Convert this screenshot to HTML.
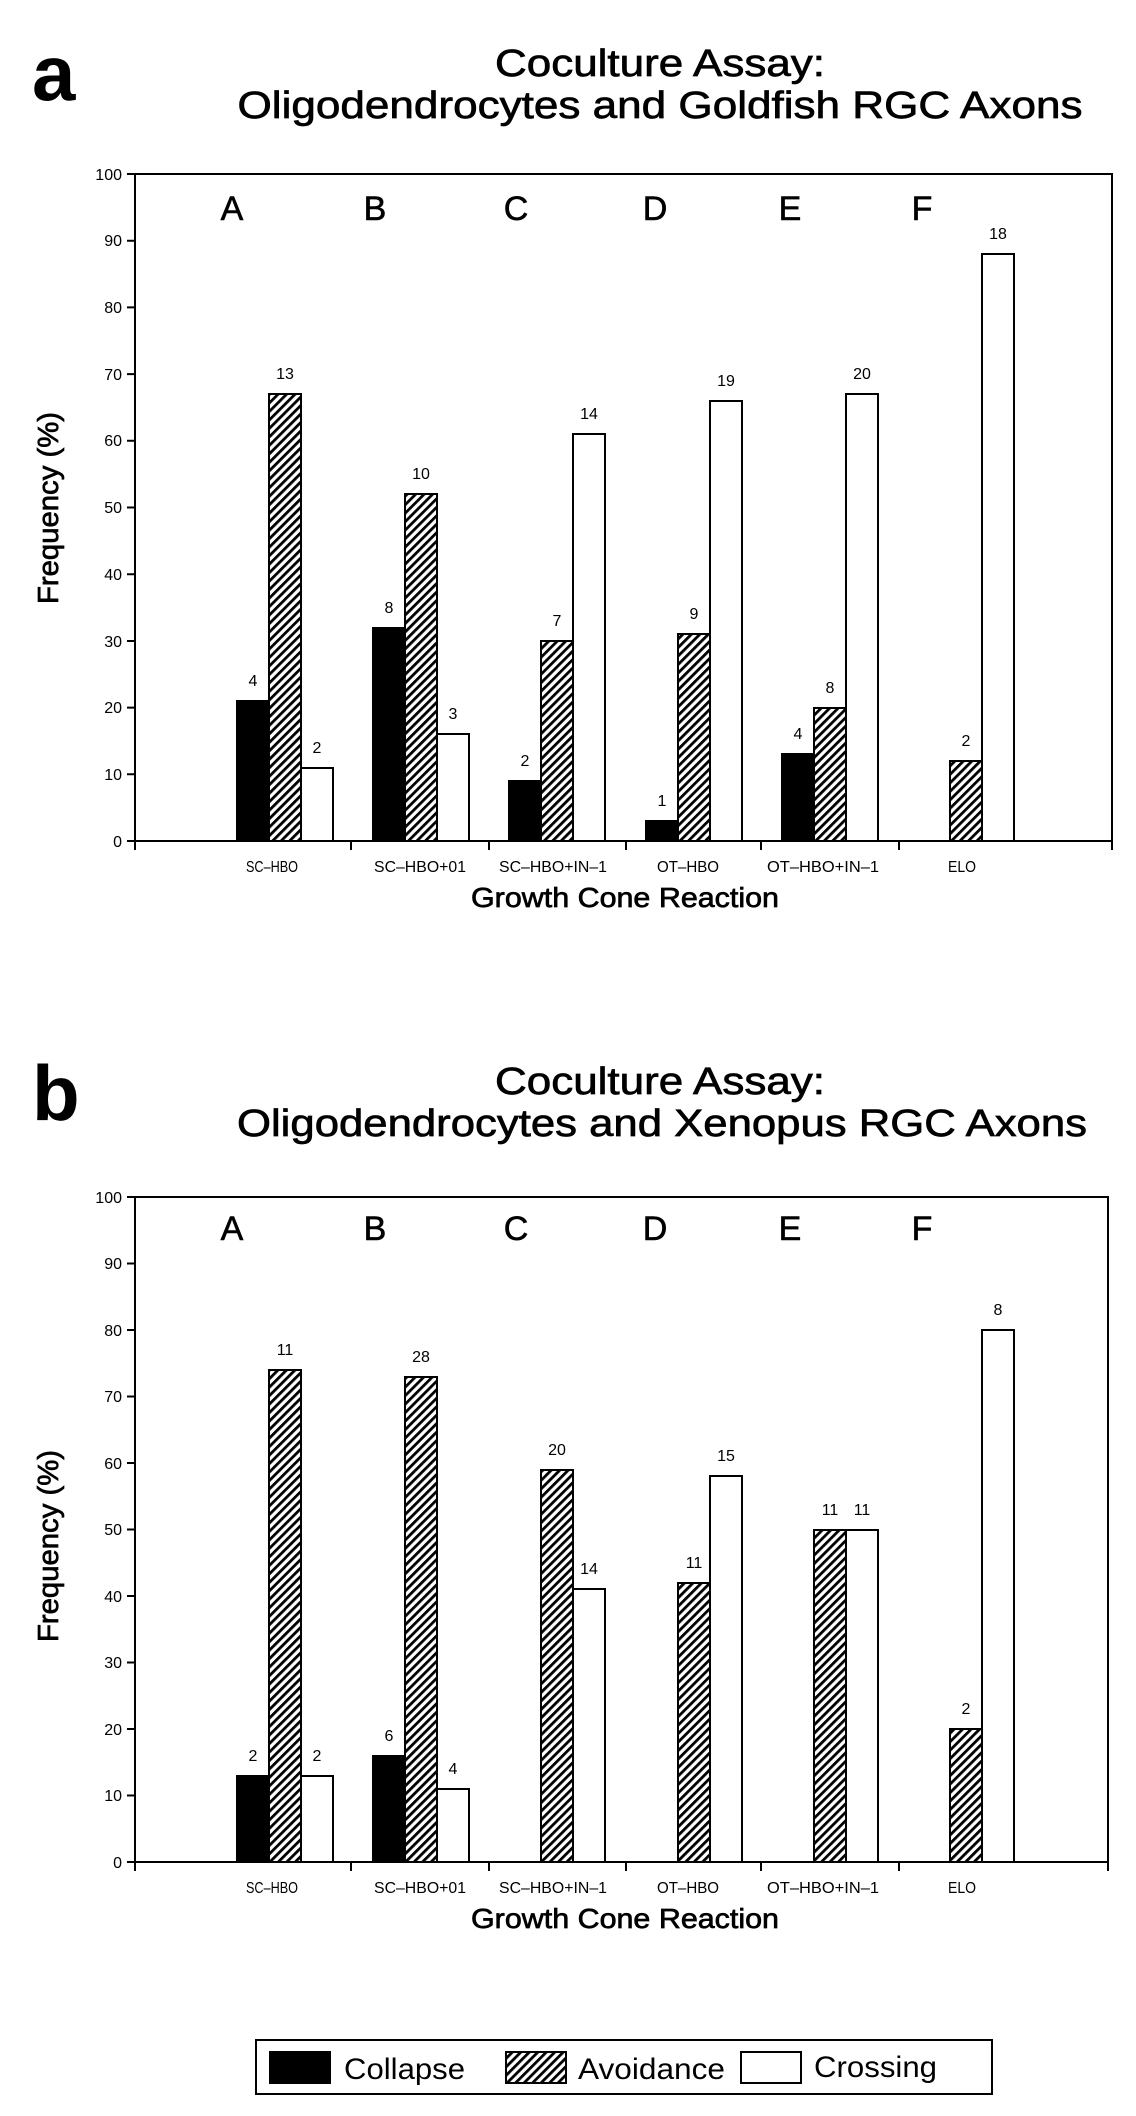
<!DOCTYPE html>
<html><head><meta charset="utf-8"><style>
html,body{margin:0;padding:0;background:#fff;}
svg{display:block;}
text{font-family:"Liberation Sans",Arial,sans-serif;fill:#000;}
.tk{font-size:16px;}
.val{font-size:16px;}
.cat{font-size:16px;}
.let{font-size:34px;stroke:#000;stroke-width:0.6px;}
.ttl{stroke:#000;stroke-width:0.7px;}
</style></head><body>
<svg width="1136" height="2116" viewBox="0 0 1136 2116" xmlns="http://www.w3.org/2000/svg">
<defs>
<pattern id="h" patternUnits="userSpaceOnUse" width="6" height="6" patternTransform="rotate(45)">
<rect width="6" height="6" fill="#fff"/><rect x="0" y="0" width="2.8" height="6" fill="#000"/>
</pattern>
</defs>

<!-- ===== Chart a ===== -->
<text x="32" y="100" font-size="78" font-weight="bold">a</text>
<text class="ttl" x="660" y="76" font-size="38" text-anchor="middle" textLength="330" lengthAdjust="spacingAndGlyphs">Coculture Assay:</text>
<text class="ttl" x="660" y="118" font-size="38" text-anchor="middle" textLength="845" lengthAdjust="spacingAndGlyphs">Oligodendrocytes and Goldfish RGC Axons</text>

<g stroke="#000" fill="none">
<rect x="135" y="174" width="977" height="667" stroke-width="2"/>
<path d="M127 841H135M127 774.3H135M127 707.6H135M127 641H135M127 574.2H135M127 507.5H135M127 440.8H135M127 374.1H135M127 307.4H135M127 240.7H135M127 174H135" stroke-width="2"/>
<path d="M135 841V850M351 841V850M489 841V850M626 841V850M761 841V850M899 841V850M1112 841V850" stroke-width="2"/>
</g>
<g class="tk" text-anchor="end">
<text x="122" y="847">0</text><text x="122" y="780">10</text><text x="122" y="713">20</text><text x="122" y="647">30</text><text x="122" y="580">40</text><text x="122" y="513">50</text><text x="122" y="446">60</text><text x="122" y="380">70</text><text x="122" y="313">80</text><text x="122" y="246">90</text><text x="122" y="180">100</text>
</g>
<text class="ttl" transform="translate(58,508) rotate(-90)" font-size="29" text-anchor="middle" textLength="192" lengthAdjust="spacingAndGlyphs">Frequency (%)</text>
<g class="let" text-anchor="middle">
<text x="232" y="220">A</text><text x="375" y="220">B</text><text x="516" y="220">C</text><text x="655" y="220">D</text><text x="790" y="220">E</text><text x="922" y="220">F</text>
</g>
<g class="cat" text-anchor="middle">
<text x="272" y="872" textLength="52" lengthAdjust="spacingAndGlyphs">SC–HBO</text>
<text x="420" y="872" textLength="92" lengthAdjust="spacingAndGlyphs">SC–HBO+01</text>
<text x="553" y="872" textLength="108" lengthAdjust="spacingAndGlyphs">SC–HBO+IN–1</text>
<text x="688" y="872" textLength="62" lengthAdjust="spacingAndGlyphs">OT–HBO</text>
<text x="823" y="872" textLength="112" lengthAdjust="spacingAndGlyphs">OT–HBO+IN–1</text>
<text x="962" y="872" textLength="28" lengthAdjust="spacingAndGlyphs">ELO</text>
</g>
<text class="ttl" x="625" y="907" font-size="28" text-anchor="middle" textLength="308" lengthAdjust="spacingAndGlyphs">Growth Cone Reaction</text>

<g stroke="#000" stroke-width="2">
<rect x="237" y="701" width="32" height="140" fill="#000"/>
<rect x="269" y="394" width="32" height="447" fill="url(#h)"/>
<rect x="301" y="768" width="32" height="73" fill="#fff"/>
<rect x="373" y="628" width="32" height="213" fill="#000"/>
<rect x="405" y="494" width="32" height="347" fill="url(#h)"/>
<rect x="437" y="734" width="32" height="107" fill="#fff"/>
<rect x="509" y="781" width="32" height="60" fill="#000"/>
<rect x="541" y="641" width="32" height="200" fill="url(#h)"/>
<rect x="573" y="434" width="32" height="407" fill="#fff"/>
<rect x="646" y="821" width="32" height="20" fill="#000"/>
<rect x="678" y="634" width="32" height="207" fill="url(#h)"/>
<rect x="710" y="401" width="32" height="440" fill="#fff"/>
<rect x="782" y="754" width="32" height="87" fill="#000"/>
<rect x="814" y="708" width="32" height="133" fill="url(#h)"/>
<rect x="846" y="394" width="32" height="447" fill="#fff"/>
<rect x="950" y="761" width="32" height="80" fill="url(#h)"/>
<rect x="982" y="254" width="32" height="587" fill="#fff"/>
</g>
<g class="val" text-anchor="middle">
<text x="253" y="686">4</text><text x="285" y="379">13</text><text x="317" y="753">2</text>
<text x="389" y="613">8</text><text x="421" y="479">10</text><text x="453" y="719">3</text>
<text x="525" y="766">2</text><text x="557" y="626">7</text><text x="589" y="419">14</text>
<text x="662" y="806">1</text><text x="694" y="619">9</text><text x="726" y="386">19</text>
<text x="798" y="739">4</text><text x="830" y="693">8</text><text x="862" y="379">20</text>
<text x="966" y="746">2</text><text x="998" y="239">18</text>
</g>

<!-- ===== Chart b ===== -->
<text x="32" y="1120" font-size="78" font-weight="bold">b</text>
<text class="ttl" x="660" y="1094" font-size="38" text-anchor="middle" textLength="330" lengthAdjust="spacingAndGlyphs">Coculture Assay:</text>
<text class="ttl" x="662" y="1136" font-size="38" text-anchor="middle" textLength="850" lengthAdjust="spacingAndGlyphs">Oligodendrocytes and Xenopus RGC Axons</text>

<g stroke="#000" fill="none">
<rect x="135" y="1197" width="973" height="665" stroke-width="2"/>
<path d="M127 1862H135M127 1795.5H135M127 1729H135M127 1662.5H135M127 1596H135M127 1529.5H135M127 1463H135M127 1396.5H135M127 1330H135M127 1263.5H135M127 1197H135" stroke-width="2"/>
<path d="M135 1862V1871M351 1862V1871M489 1862V1871M626 1862V1871M761 1862V1871M899 1862V1871M1108 1862V1871" stroke-width="2"/>
</g>
<g class="tk" text-anchor="end">
<text x="122" y="1868">0</text><text x="122" y="1801">10</text><text x="122" y="1735">20</text><text x="122" y="1668">30</text><text x="122" y="1602">40</text><text x="122" y="1535">50</text><text x="122" y="1469">60</text><text x="122" y="1402">70</text><text x="122" y="1336">80</text><text x="122" y="1269">90</text><text x="122" y="1203">100</text>
</g>
<text class="ttl" transform="translate(58,1546) rotate(-90)" font-size="29" text-anchor="middle" textLength="192" lengthAdjust="spacingAndGlyphs">Frequency (%)</text>
<g class="let" text-anchor="middle">
<text x="232" y="1240">A</text><text x="375" y="1240">B</text><text x="516" y="1240">C</text><text x="655" y="1240">D</text><text x="790" y="1240">E</text><text x="922" y="1240">F</text>
</g>
<g class="cat" text-anchor="middle">
<text x="272" y="1893" textLength="52" lengthAdjust="spacingAndGlyphs">SC–HBO</text>
<text x="420" y="1893" textLength="92" lengthAdjust="spacingAndGlyphs">SC–HBO+01</text>
<text x="553" y="1893" textLength="108" lengthAdjust="spacingAndGlyphs">SC–HBO+IN–1</text>
<text x="688" y="1893" textLength="62" lengthAdjust="spacingAndGlyphs">OT–HBO</text>
<text x="823" y="1893" textLength="112" lengthAdjust="spacingAndGlyphs">OT–HBO+IN–1</text>
<text x="962" y="1893" textLength="28" lengthAdjust="spacingAndGlyphs">ELO</text>
</g>
<text class="ttl" x="625" y="1928" font-size="28" text-anchor="middle" textLength="308" lengthAdjust="spacingAndGlyphs">Growth Cone Reaction</text>

<g stroke="#000" stroke-width="2">
<rect x="237" y="1776" width="32" height="86" fill="#000"/>
<rect x="269" y="1370" width="32" height="492" fill="url(#h)"/>
<rect x="301" y="1776" width="32" height="86" fill="#fff"/>
<rect x="373" y="1756" width="32" height="106" fill="#000"/>
<rect x="405" y="1377" width="32" height="485" fill="url(#h)"/>
<rect x="437" y="1789" width="32" height="73" fill="#fff"/>
<rect x="541" y="1470" width="32" height="392" fill="url(#h)"/>
<rect x="573" y="1589" width="32" height="273" fill="#fff"/>
<rect x="678" y="1583" width="32" height="279" fill="url(#h)"/>
<rect x="710" y="1476" width="32" height="386" fill="#fff"/>
<rect x="814" y="1530" width="32" height="332" fill="url(#h)"/>
<rect x="846" y="1530" width="32" height="332" fill="#fff"/>
<rect x="950" y="1729" width="32" height="133" fill="url(#h)"/>
<rect x="982" y="1330" width="32" height="532" fill="#fff"/>
</g>
<g class="val" text-anchor="middle">
<text x="253" y="1761">2</text><text x="285" y="1355">11</text><text x="317" y="1761">2</text>
<text x="389" y="1741">6</text><text x="421" y="1362">28</text><text x="453" y="1774">4</text>
<text x="557" y="1455">20</text><text x="589" y="1574">14</text>
<text x="694" y="1568">11</text><text x="726" y="1461">15</text>
<text x="830" y="1515">11</text><text x="862" y="1515">11</text>
<text x="966" y="1714">2</text><text x="998" y="1315">8</text>
</g>

<!-- ===== Legend ===== -->
<rect x="256" y="2040" width="736" height="54" fill="#fff" stroke="#000" stroke-width="2"/>
<rect x="270" y="2052" width="60" height="31" fill="#000" stroke="#000" stroke-width="2"/>
<text x="344" y="2079" font-size="30" textLength="121" lengthAdjust="spacingAndGlyphs">Collapse</text>
<rect x="506" y="2052" width="60" height="31" fill="url(#h)" stroke="#000" stroke-width="2"/>
<text x="578" y="2079" font-size="30" textLength="147" lengthAdjust="spacingAndGlyphs">Avoidance</text>
<rect x="741" y="2052" width="60" height="31" fill="#fff" stroke="#000" stroke-width="2"/>
<text x="814" y="2077" font-size="30" textLength="123" lengthAdjust="spacingAndGlyphs">Crossing</text>
</svg>
</body></html>
